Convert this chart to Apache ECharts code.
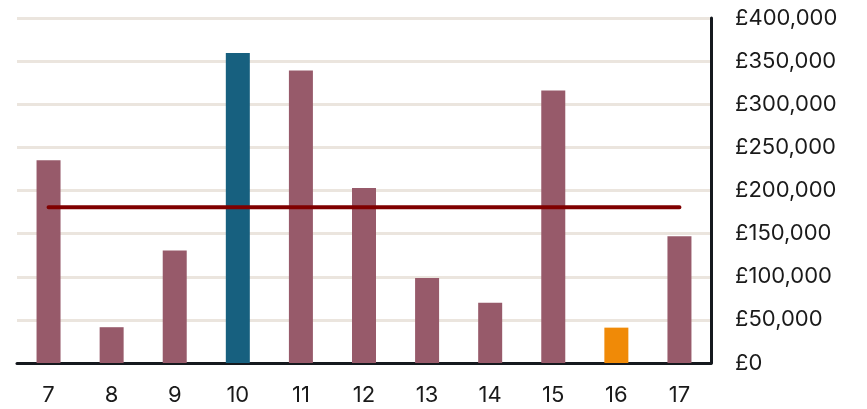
<!DOCTYPE html>
<html><head><meta charset="utf-8">
<script src="https://cdn.jsdelivr.net/npm/echarts@6/dist/echarts.min.js"></script>
<style>html,body{margin:0;padding:0;background:#fff}#c{width:867px;height:409px}</style>
</head><body><div id="c"></div>
<script>
const categories = ['7','8','9','10','11','12','13','14','15','16','17'];
const values = [235000, 41500, 130500, 359500, 339000, 203000, 98500, 70000, 316000, 41000, 147000];
const barColors = ['#975a6a','#975a6a','#975a6a','#17607f','#975a6a','#975a6a','#975a6a','#975a6a','#975a6a','#f08a07','#975a6a'];
const meanLine = [180500, 180500, 180500, 180500, 180500, 180500, 180500, 180500, 180500, 180500, 180500];
const yTicks = { min: 0, max: 400000, interval: 50000 };

const font = 'Inter';
const chart = echarts.init(document.getElementById('c'), null, {renderer: 'canvas'});
chart.setOption({
  animation: false,
  grid: { left: 17, right: 156, top: 18, bottom: 46, containLabel: false },
  xAxis: {
    type: 'category', data: categories,
    axisLine: { show: true, lineStyle: { color: '#15191e', width: 3 } },
    axisTick: { show: false },
    axisLabel: { color: '#1a1a1a', fontFamily: font, fontSize: 22, margin: 21 },
    splitLine: { show: false }
  },
  yAxis: {
    type: 'value', position: 'right', min: yTicks.min, max: yTicks.max, interval: yTicks.interval,
    axisLine: { show: true, lineStyle: { color: '#15191e', width: 3 } },
    axisTick: { show: false },
    axisLabel: { color: '#1a1a1a', fontFamily: font, fontSize: 22, margin: 24,
      formatter: v => '£' + v.toLocaleString('en-GB') },
    splitLine: { show: true, lineStyle: { color: '#ebe5de', width: 3 } }
  },
  series: [
    { type: 'bar', barWidth: 24,
      data: values.map((v, i) => ({ value: v, itemStyle: { color: barColors[i] } }))
    },
    { type: 'line', data: meanLine, symbol: 'none',
      lineStyle: { color: '#800000', width: 4, cap: 'round' }, z: 5 }
  ]
});
</script></body></html>
